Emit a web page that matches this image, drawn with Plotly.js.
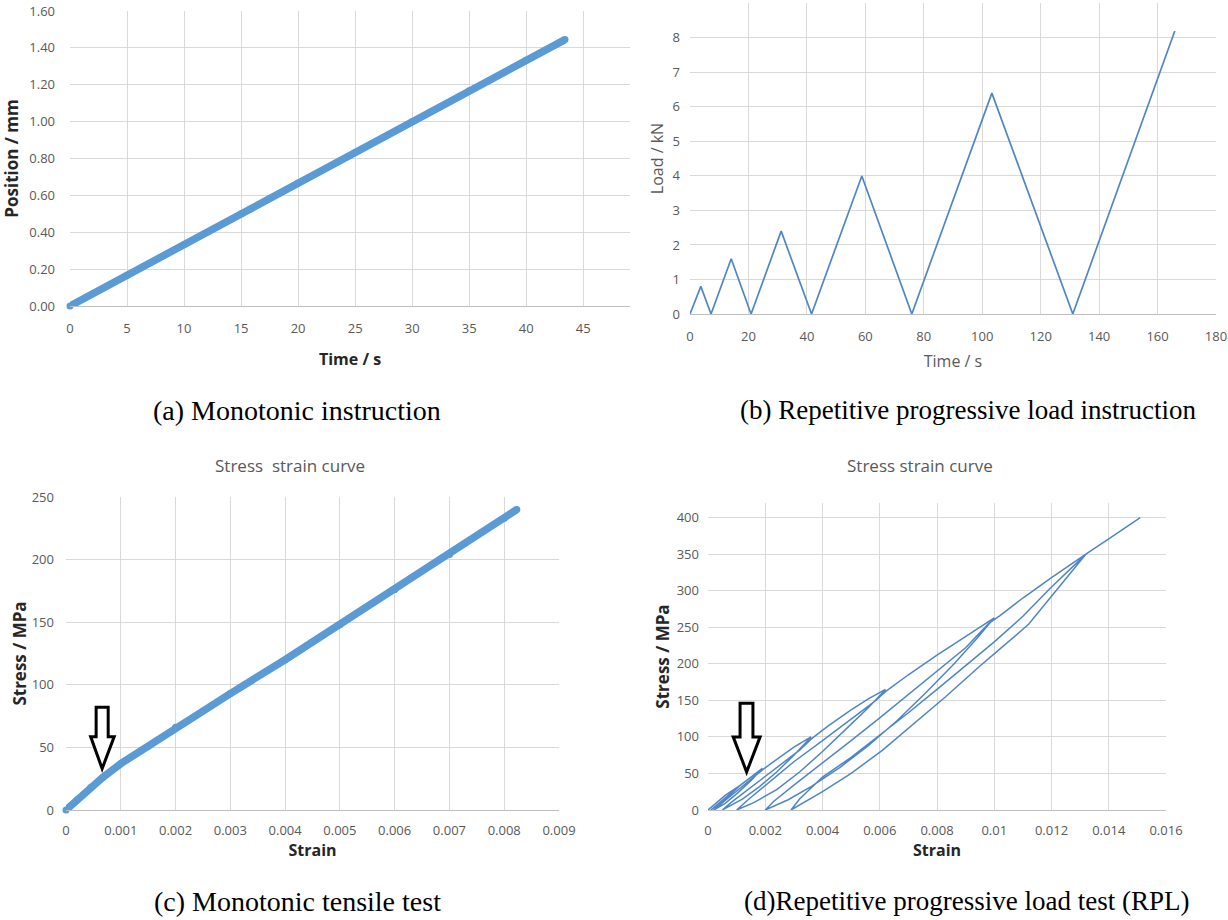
<!DOCTYPE html>
<html><head><meta charset="utf-8">
<script src="https://cdn.plot.ly/plotly-3.0.1.min.js"></script>
<style>body{margin:0;background:#fff}#chart{width:1228px;height:920px}</style>
</head><body><div id="chart"></div>
<script>
// (a) Monotonic instruction
const timeA = [0, 5, 10, 15, 20, 25, 30, 35, 40, 43.4];
const positionA = [0, 0.167, 0.333, 0.5, 0.667, 0.833, 1.0, 1.167, 1.333, 1.445];
// (b) Repetitive progressive load instruction
const timeB = [0, 3.7, 7.2, 14.1, 20.9, 31.2, 41.6, 58.8, 75.9, 103.3, 131, 165.9];
const loadB = [0, 0.8, 0, 1.6, 0, 2.4, 0, 4.0, 0, 6.4, 0, 8.2];
// (c) Monotonic tensile test
const strainC = [0, 0.0002, 0.00045, 0.00067, 0.001, 0.0015, 0.002, 0.003, 0.004, 0.005, 0.006, 0.007, 0.008, 0.00823];
const stressC = [0, 8, 18, 26, 37, 51, 66, 93, 120, 148, 176, 204, 233, 240];
// (d) Repetitive progressive load test (RPL) - full loading/unloading path
const strainD = [
  0, 0.0003, 0.0006, 0.0009, 0.0011,
  0.0008, 0.0005, 0.0001,
  0.0004, 0.0008, 0.0011, 0.0015, 0.0019,
  0.0015, 0.0010, 0.0006, 0.0002,
  0.0006, 0.0010, 0.0014, 0.0019, 0.0025, 0.0030, 0.0036,
  0.0030, 0.0024, 0.0018, 0.0012, 0.0005,
  0.0008, 0.0014, 0.0020, 0.0026, 0.0032, 0.0036, 0.0042, 0.0050, 0.0056, 0.0062,
  0.0056, 0.0048, 0.0040, 0.0032, 0.0024, 0.0016, 0.0010,
  0.0014, 0.0022, 0.0030, 0.0040, 0.0050, 0.0058, 0.0062, 0.0070, 0.0080, 0.0090, 0.0100,
  0.0094, 0.0086, 0.0076, 0.0066, 0.0056, 0.0046, 0.0036, 0.0028, 0.0020,
  0.0023, 0.0030, 0.0040, 0.0050, 0.0060, 0.0070, 0.0080, 0.0090, 0.0098, 0.0102, 0.0110, 0.0120, 0.0132,
  0.0128, 0.0120, 0.0112, 0.0101, 0.0095, 0.0083, 0.0072, 0.0061, 0.0050, 0.0040, 0.0029,
  0.0032, 0.0036, 0.0040, 0.0050, 0.0060, 0.0070, 0.0080, 0.0090, 0.0100, 0.0110, 0.0120, 0.0128, 0.0132, 0.0140, 0.0151
];
const stressD = [
  0, 10, 20, 28, 33,
  22, 11, 0,
  10, 22, 33, 45, 57,
  40, 22, 9, 0,
  13, 26, 38, 55, 72, 86, 100,
  75, 52, 32, 15, 0,
  10, 28, 46, 64, 82, 97, 115, 137, 152, 165,
  140, 110, 80, 52, 28, 10, 0,
  14, 40, 66, 95, 124, 148, 162, 185, 212, 238, 263,
  235, 200, 160, 122, 88, 58, 32, 14, 0,
  12, 34, 64, 95, 126, 158, 190, 222, 255, 266, 290, 318, 350,
  331, 293, 254, 217, 197, 155, 119, 82, 50, 25, 0,
  15, 30, 45, 72, 102, 133, 165, 197, 230, 265, 305, 335, 350, 371, 400
];

const W = 1228, H = 920;
const px = v => v / W;
const py = v => 1 - v / H;

const tickFont = {family: 'Open Sans, sans-serif', size: 13, color: '#595959'};
const grid = '#d9d9d9';
const boldTitle = (t, s) => ({text: t, font: {family: 'Open Sans, sans-serif', size: s || 16, color: '#262626', weight: 700}});
const plainTitle = (t) => ({text: t, font: {family: 'Open Sans, sans-serif', size: 16, color: '#595959'}});

function xax(dom, range, dtick, anchor, title, standoff, lsd) {
  return {domain: dom, range: range, dtick: dtick, tick0: 0, anchor: anchor, showgrid: true, gridcolor: grid,
    zeroline: false, showline: true, linecolor: '#bfbfbf', ticks: '', tickfont: tickFont, ticklabelstandoff: lsd,
    title: Object.assign(title, {standoff: standoff}), automargin: false};
}
function yax(dom, range, dtick, anchor, title, standoff, lsd, fmt) {
  return {domain: dom, range: range, dtick: dtick, tick0: 0, anchor: anchor, showgrid: true, gridcolor: grid,
    zeroline: false, showline: false, ticks: '', tickfont: tickFont, ticklabelstandoff: lsd,
    title: Object.assign(title, {standoff: standoff}), automargin: false, tickformat: fmt || ''};
}

const thick = '#5B9BD5', thin = '#4F86C6';
const traces = [
  {x: timeA, y: positionA, xaxis: 'x', yaxis: 'y', mode: 'lines+markers', line: {color: thick, width: 7.5},
   marker: {color: thick, size: 7}, cliponaxis: false, showlegend: false},
  {x: timeB, y: loadB, xaxis: 'x2', yaxis: 'y2', mode: 'lines', line: {color: thin, width: 1.7}, showlegend: false},
  {x: strainC, y: stressC, xaxis: 'x3', yaxis: 'y3', mode: 'lines+markers', line: {color: thick, width: 7.5},
   marker: {color: thick, size: 7}, cliponaxis: false, showlegend: false},
  {x: strainD, y: stressD, xaxis: 'x4', yaxis: 'y4', mode: 'lines', line: {color: thin, width: 1.5}, showlegend: false}
];

const capFont = {family: 'Liberation Serif, Times New Roman, serif', size: 27, color: '#000'};
const titleFont = {family: 'Open Sans, sans-serif', size: 17, color: '#595959'};

const layout = {
  width: W, height: H, margin: {l: 0, r: 0, t: 0, b: 0}, paper_bgcolor: '#fff', plot_bgcolor: '#fff',
  showlegend: false,
  xaxis: xax([px(70), px(630)], [0, 49.1], 5, 'y', boldTitle('Time / s'), 18, 10),
  yaxis: yax([py(306), py(11)], [0, 1.6], 0.2, 'x', boldTitle('Position / mm', 17), 10, 14, '.2f'),
  xaxis2: xax([px(690), px(1216)], [0, 180], 20, 'y2', plainTitle('Time / s'), 12, 10),
  yaxis2: yax([py(314), py(3)], [0, 9.01], 1, 'x2', plainTitle('Load / kN'), 4, 9),
  xaxis3: xax([px(66), px(559)], [0, 0.009], 0.001, 'y3', boldTitle('Strain'), 7, 8),
  yaxis3: yax([py(810), py(497)], [0, 250], 50, 'x3', boldTitle('Stress / MPa', 17), 0, 11),
  xaxis4: xax([px(708), px(1166)], [0, 0.016], 0.002, 'y4', boldTitle('Strain'), 7, 8),
  yaxis4: yax([py(810), py(503)], [0, 420], 50, 'x4', boldTitle('Stress / MPa', 17), 2, 8),
  shapes: [
    {type: 'path', xref: 'x3', yref: 'y3',
     path: 'M 0.00055 82 L 0.00077 82 L 0.00077 58.6 L 0.00088 58.6 L 0.00066 33 L 0.00045 58.6 L 0.00055 58.6 Z',
     line: {color: '#000', width: 3}, fillcolor: '#fff'},
    {type: 'path', xref: 'x4', yref: 'y4',
     path: 'M 0.00112 146 L 0.00157 146 L 0.00157 100 L 0.00182 100 L 0.00135 52 L 0.00088 100 L 0.00112 100 Z',
     line: {color: '#000', width: 3}, fillcolor: '#fff'}
  ],
  annotations: [
    {text: '(a) Monotonic instruction', x: px(297), y: py(410), xref: 'paper', yref: 'paper', showarrow: false, font: Object.assign({}, capFont, {size: 28}), xanchor: 'center', yanchor: 'middle'},
    {text: '(b) Repetitive progressive load instruction', x: px(968), y: py(410), xref: 'paper', yref: 'paper', showarrow: false, font: capFont, xanchor: 'center', yanchor: 'middle'},
    {text: '(c) Monotonic tensile test', x: px(297), y: py(901), xref: 'paper', yref: 'paper', showarrow: false, font: Object.assign({}, capFont, {size: 28}), xanchor: 'center', yanchor: 'middle'},
    {text: '(d)Repetitive progressive load test (RPL)', x: px(966), y: py(901), xref: 'paper', yref: 'paper', showarrow: false, font: capFont, xanchor: 'center', yanchor: 'middle'},
    {text: 'Stress&nbsp; strain curve', x: px(290), y: py(466), xref: 'paper', yref: 'paper', showarrow: false, font: titleFont, xanchor: 'center', yanchor: 'middle'},
    {text: 'Stress strain curve', x: px(920), y: py(465), xref: 'paper', yref: 'paper', showarrow: false, font: titleFont, xanchor: 'center', yanchor: 'middle'}
  ]
};

Plotly.newPlot('chart', traces, layout, {displayModeBar: false, staticPlot: true});
</script></body></html>
